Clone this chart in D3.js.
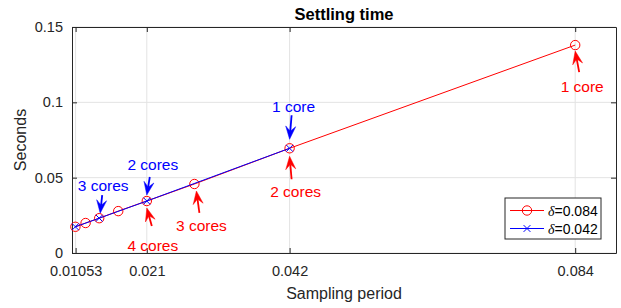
<!DOCTYPE html>
<html>
<head>
<meta charset="utf-8">
<script src="https://cdn.jsdelivr.net/npm/d3@7"></script>
<style>
body { margin: 0; background: #fff; }
text { font-family: "Liberation Sans", Arial, Helvetica, sans-serif; }
</style>
</head>
<body>
<script>
// chart size
var W = 621, H = 308;
var margin = {top: 27, right: 5, bottom: 55, left: 72};
var width = W - margin.left - margin.right;
var height = H - margin.top - margin.bottom;

// data: sampling period vs settling time
var periodsA = [0.084, 0.042, 0.028, 0.021, 0.0168, 0.014, 0.012, 0.0105];
var timesA   = [0.138, 0.0695, 0.0458, 0.0345, 0.0278, 0.0231, 0.0199, 0.0174];
var periodsB = [0.042, 0.021, 0.014, 0.0105];
var timesB   = [0.0695, 0.0345, 0.0231, 0.0174];

var xTicks = [0.01053, 0.021, 0.042, 0.084];
var xTickLabels = ["0.01053", "0.021", "0.042", "0.084"];
var yTicks = [0, 0.05, 0.1, 0.15];
var yTickLabels = ["0", "0.05", "0.1", "0.15"];

var legendLabels = ["0.084", "0.042"];

// annotations: which point, label and offsets (tip, tail, text) in px
var notes = [
  {s: "A", i: 0, label: "1 core",  tip: [0, 6],   tail: [4, 27],   txt: [7, 41]},
  {s: "A", i: 1, label: "2 cores", tip: [0, 8],   tail: [2, 31],   txt: [6, 43]},
  {s: "A", i: 2, label: "3 cores", tip: [2, 7],   tail: [5, 29],   txt: [7, 42]},
  {s: "A", i: 3, label: "4 cores", tip: [0, 7],   tail: [5, 25],   txt: [6, 44]},
  {s: "B", i: 0, label: "1 core",  tip: [0, -9],  tail: [2, -33],  txt: [4, -42]},
  {s: "B", i: 1, label: "2 cores", tip: [0, -6],  tail: [3, -24],  txt: [6, -37]},
  {s: "B", i: 2, label: "3 cores", tip: [1, -5],  tail: [3, -23],  txt: [4, -33]}
];

var colA = "#ff0000", colB = "#0000ff";

var svg = d3.select("body").append("svg")
  .attr("width", W).attr("height", H);

var g = svg.append("g")
  .attr("transform", "translate(" + margin.left + "," + margin.top + ")");

var x = d3.scaleLinear().domain([0.01, 0.09]).range([0, width]);
var y = d3.scaleLinear().domain([0, 0.15]).range([height, 0]);

// grid
g.selectAll(".gx").data(xTicks).enter().append("line")
  .attr("x1", function(d) { return x(d); }).attr("x2", function(d) { return x(d); })
  .attr("y1", 0).attr("y2", height)
  .attr("stroke", "#e3e3e3").attr("stroke-width", 1);
g.selectAll(".gy").data(yTicks).enter().append("line")
  .attr("x1", 0).attr("x2", width)
  .attr("y1", function(d) { return y(d); }).attr("y2", function(d) { return y(d); })
  .attr("stroke", "#e3e3e3").attr("stroke-width", 1);

// axes (ticks inward)
var xAxis = d3.axisBottom(x).tickValues(xTicks)
  .tickFormat(function(d, i) { return xTickLabels[i]; })
  .tickSizeInner(-5).tickSizeOuter(0).tickPadding(13);
var yAxis = d3.axisLeft(y).tickValues(yTicks)
  .tickFormat(function(d, i) { return yTickLabels[i]; })
  .tickSizeInner(-5).tickSizeOuter(0).tickPadding(9);
var xTop = d3.axisTop(x).tickValues(xTicks).tickFormat("").tickSizeInner(-5).tickSizeOuter(0);
var yRight = d3.axisRight(y).tickValues(yTicks).tickFormat("").tickSizeInner(-5).tickSizeOuter(0);

function styleAxis(sel) {
  sel.select(".domain").attr("stroke", "#262626");
  sel.selectAll(".tick line").attr("stroke", "#262626");
  sel.selectAll("text").attr("fill", "#262626")
    .style("font-family", "'Liberation Sans', Arial, sans-serif")
    .style("font-size", "14.5px");
}

g.append("g").attr("transform", "translate(0," + height + ")").call(xAxis).call(styleAxis);
g.append("g").call(yAxis).call(styleAxis);
g.append("g").call(xTop).call(styleAxis);
g.append("g").attr("transform", "translate(" + width + ",0)").call(yRight).call(styleAxis);

// title and labels
svg.append("text").attr("x", margin.left + width / 2).attr("y", 20)
  .attr("text-anchor", "middle").attr("font-weight", "bold")
  .attr("font-size", "16.5px").attr("fill", "#000").text("Settling time");
svg.append("text").attr("x", margin.left + width / 2).attr("y", 299)
  .attr("text-anchor", "middle").attr("font-size", "16px").attr("fill", "#262626")
  .text("Sampling period");
svg.append("text").attr("transform", "translate(26," + (margin.top + height / 2) + ") rotate(-90)")
  .attr("text-anchor", "middle").attr("font-size", "16px").attr("fill", "#262626")
  .text("Seconds");

// series
var line = d3.line()
  .x(function(d) { return x(d[0]); })
  .y(function(d) { return y(d[1]); });

var dataA = d3.zip(periodsA, timesA);
var dataB = d3.zip(periodsB, timesB);

g.append("path").datum(dataA).attr("d", line)
  .attr("fill", "none").attr("stroke", colA).attr("stroke-width", 1);
g.selectAll(".mA").data(dataA).enter().append("circle")
  .attr("cx", function(d) { return x(d[0]); })
  .attr("cy", function(d) { return y(d[1]); })
  .attr("r", 4.7).attr("fill", "none").attr("stroke", colA).attr("stroke-width", 1);

g.append("path").datum(dataB).attr("d", line)
  .attr("fill", "none").attr("stroke", colB).attr("stroke-width", 1);
var cross = d3.symbol().type(d3.symbolX).size(32);
g.selectAll(".mB").data(dataB).enter().append("path")
  .attr("transform", function(d) { return "translate(" + x(d[0]) + "," + y(d[1]) + ")"; })
  .attr("d", cross).attr("fill", "none").attr("stroke", colB).attr("stroke-width", 1);

// annotations
function arrowHead(tx, ty, fx, fy) {
  var a = Math.atan2(ty - fy, tx - fx);
  var L = 13, Wd = 5, back = 8;
  function pt(u, v) {
    return [tx - u * Math.cos(a) - v * Math.sin(a), ty - u * Math.sin(a) + v * Math.cos(a)];
  }
  return [pt(0, 0), pt(L, Wd), pt(back, 0), pt(L, -Wd)];
}

notes.forEach(function(n) {
  var px = n.s === "A" ? x(periodsA[n.i]) : x(periodsB[n.i]);
  var py = n.s === "A" ? y(timesA[n.i]) : y(timesB[n.i]);
  var c = n.s === "A" ? colA : colB;
  var tx = px + n.tip[0], ty = py + n.tip[1];
  var fx = px + n.tail[0], fy = py + n.tail[1];
  var head = arrowHead(tx, ty, fx, fy);
  g.append("line").attr("x1", fx).attr("y1", fy).attr("x2", head[2][0]).attr("y2", head[2][1])
    .attr("stroke", c).attr("stroke-width", 1.8);
  g.append("path").attr("d", "M" + head.join("L") + "Z").attr("fill", c).attr("stroke", c).attr("stroke-width", 0.5);
  g.append("text").attr("x", px + n.txt[0]).attr("y", py + n.txt[1])
    .attr("text-anchor", "middle").attr("dominant-baseline", "central")
    .attr("font-size", "15.5px").attr("fill", c).text(n.label);
});

// legend
var lg = svg.append("g").attr("transform", "translate(505,198)");
lg.append("rect").attr("x", 0).attr("y", 0).attr("width", 96).attr("height", 41)
  .attr("fill", "#fff").attr("stroke", "#262626").attr("stroke-width", 1);
[colA, colB].forEach(function(c, i) {
  var yy = 12.5 + i * 18;
  lg.append("line").attr("x1", 5).attr("x2", 39).attr("y1", yy).attr("y2", yy)
    .attr("stroke", c).attr("stroke-width", 1);
  if (i === 0) {
    lg.append("circle").attr("cx", 22).attr("cy", yy).attr("r", 4.7)
      .attr("fill", "none").attr("stroke", c);
  } else {
    lg.append("path").attr("transform", "translate(22," + yy + ")").attr("d", cross)
      .attr("fill", "none").attr("stroke", c);
  }
  var t = lg.append("text").attr("x", 43).attr("y", yy).attr("dominant-baseline", "central")
    .attr("font-size", "14px").attr("fill", "#000");
  t.append("tspan").attr("font-family", "'Liberation Serif', 'Times New Roman', serif")
    .attr("font-style", "italic").text("δ");
  t.append("tspan").text("=" + legendLabels[i]);
});
</script>
</body>
</html>
